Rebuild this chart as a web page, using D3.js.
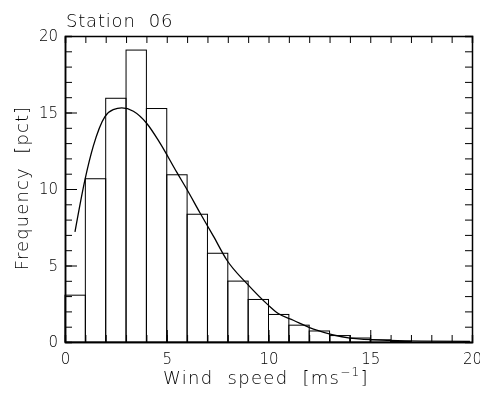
<!DOCTYPE html>
<html>
<head>
<meta charset="utf-8">
<script src="https://cdn.jsdelivr.net/npm/d3@7"></script>
<style>
  body { margin: 0; background: #fff; }
  #chart { filter: grayscale(100%); }
  text { font-family: "DejaVu Sans", sans-serif; font-weight: 200; fill: #000; white-space: pre; }
</style>
</head>
<body>
<div id="chart"></div>
<script>
// histogram bins: left edge of each 1 m/s bin and frequency in pct
var binStart = [0, 1, 2, 3, 4, 5, 6, 7, 8, 9, 10, 11, 12, 13, 14, 15, 16];
var binFreq = [3.06, 10.67, 15.93, 19.08, 15.26, 10.93, 8.35, 5.8, 3.98, 2.78, 1.8, 1.1, 0.72, 0.42, 0.26, 0.14, 0.05];

// fitted curve
var fitSpeed = [0.49, 0.98, 1.39, 1.97, 2.37, 2.79, 3.36, 4.01, 4.67, 5.49, 6.0, 6.63, 7.3, 7.95, 8.93, 9.99, 10.48, 11.22, 12.37, 14.0, 15.97, 17.5, 19.9];
var fitFreq = [7.2, 10.6, 12.8, 14.75, 15.19, 15.3, 15.08, 14.3, 13.0, 11.1, 9.95, 8.45, 6.9, 5.36, 3.83, 2.41, 1.86, 1.42, 0.77, 0.26, 0.11, 0.06, 0.04];

var xMajor = [0, 5, 10, 15, 20];
var yMajor = [0, 5, 10, 15, 20];

var width = 480, height = 397;
var margin = {top: 36, right: 8, bottom: 55, left: 65};

var svg = d3.select("#chart").append("svg")
  .attr("width", width)
  .attr("height", height);

var x = d3.scaleLinear().domain([0, 20]).range([margin.left, width - margin.right]);
var y = d3.scaleLinear().domain([0, 20]).range([height - margin.bottom, margin.top]);

// bars
svg.append("g").selectAll("rect")
  .data(binStart)
  .enter().append("rect")
  .attr("x", function(d) { return x(d); })
  .attr("y", function(d, i) { return y(binFreq[i]); })
  .attr("width", function(d) { return x(d + 1) - x(d); })
  .attr("height", function(d, i) { return y(0) - y(binFreq[i]); })
  .attr("fill", "none")
  .attr("stroke", "#000")
  .attr("stroke-width", 1);

// fit line
var line = d3.line()
  .x(function(d, i) { return x(fitSpeed[i]); })
  .y(function(d, i) { return y(fitFreq[i]); })
  .curve(d3.curveMonotoneX);

svg.append("path")
  .datum(fitSpeed)
  .attr("d", line)
  .attr("fill", "none")
  .attr("stroke", "#000")
  .attr("stroke-width", 1.3);

// axes, ticks pointing inward
function styleAxis(g) {
  g.select(".domain").attr("stroke", "#000").attr("stroke-width", 1.5);
  g.selectAll(".tick line").attr("stroke", "#000").attr("stroke-width", 1);
  g.selectAll("text").attr("font-size", "15px");
  g.attr("font-family", null);
}

var minor = d3.range(0, 21);

svg.append("g")
  .attr("transform", "translate(0," + y(0) + ")")
  .call(d3.axisBottom(x).tickValues(minor).tickSize(-7).tickFormat(""))
  .call(styleAxis);
svg.append("g")
  .attr("transform", "translate(0," + y(0) + ")")
  .call(d3.axisBottom(x).tickValues(xMajor).tickSizeInner(-12).tickSizeOuter(0).tickPadding(8).tickFormat(d3.format("d")))
  .call(styleAxis)
  .selectAll("text").attr("dy", "0.9em");

svg.append("g")
  .attr("transform", "translate(0," + y(20) + ")")
  .call(d3.axisTop(x).tickValues(minor).tickSize(-7).tickFormat(""))
  .call(styleAxis);

svg.append("g")
  .attr("transform", "translate(" + x(0) + ",0)")
  .call(d3.axisLeft(y).tickValues(minor).tickSize(-7).tickFormat(""))
  .call(styleAxis);
svg.append("g")
  .attr("transform", "translate(" + x(0) + ",0)")
  .call(d3.axisLeft(y).tickValues(yMajor).tickSizeInner(-12).tickSizeOuter(0).tickPadding(7).tickFormat(d3.format("d")))
  .call(styleAxis);

svg.append("g")
  .attr("transform", "translate(" + x(20) + ",0)")
  .call(d3.axisRight(y).tickValues(minor).tickSize(-7).tickFormat(""))
  .call(styleAxis);

// titles
svg.append("text")
  .attr("x", 66)
  .attr("y", 27)
  .attr("font-size", "18px")
  .attr("letter-spacing", "0.8px")
  .text("Station  06");

var xl = svg.append("text")
  .attr("x", 163)
  .attr("y", 384)
  .attr("font-size", "18px")
  .attr("letter-spacing", "1.3px");
xl.append("tspan").text("Wind  speed  [ms");
xl.append("tspan").attr("font-size", "12px").attr("dy", -8).text("−1");
xl.append("tspan").attr("dy", 8).text("]");

svg.append("text")
  .attr("transform", "translate(28," + 188 + ") rotate(-90)")
  .attr("text-anchor", "middle")
  .attr("font-size", "18px")
  .attr("letter-spacing", "1.1px")
  .text("Frequency  [pct]");
</script>
</body>
</html>
